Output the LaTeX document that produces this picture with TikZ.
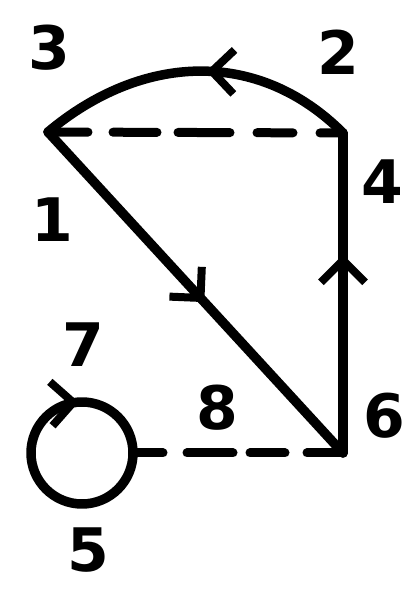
\documentclass[tikz,border=0pt]{standalone}
\usepackage{fontspec}
\setmainfont{DejaVu Sans}
\usetikzlibrary{arrows.meta,decorations.markings}
\tikzset{
  ink/.style={line width=9.5pt, line cap=round, line join=round},
  barb/.style={line width=8pt, line cap=round, line join=round},
  midarrow/.style={postaction={decorate}, decoration={markings,
    mark=at position #1 with {\arrow[barb]{Straight Barb[length=22pt,width=44pt]}}}},
  midarrowrev/.style={postaction={decorate}, decoration={markings,
    mark=at position #1 with {\arrowreversed[barb]{Straight Barb[length=22pt,width=44pt]}}}},
  lbl/.style={font=\fontsize{60}{60}\selectfont\bfseries, inner sep=0pt},
  dashline/.style={line width=9pt, line cap=round}
}
\begin{document}
\begin{tikzpicture}[x=1pt,y=1pt]
\useasboundingbox (0,0) rectangle (406,592);
% vertices
\coordinate (A) at (48,460);
\coordinate (B) at (343,459);
\coordinate (C) at (343,139);
\coordinate (L) at (82,139);
\coordinate (Le) at (133,139);
% edges
\draw[ink, midarrow=0.47] (B) to[out=135,in=40,looseness=1.05] (A);
\draw[ink, midarrow=0.53] (A) -- (C);
\draw[ink, midarrow=0.62] (C) -- (B);
\draw[ink, midarrowrev=0.26] (L) circle[radius=51];
% dashed lines
\draw[dashline, dash pattern=on 40pt off 25pt on 44pt off 21pt on 52pt off 27pt on 36pt off 27pt on 27pt] (A) -- (B);
\draw[dashline, dash pattern=on 30pt off 24pt on 46pt off 17pt on 35pt off 22pt on 40pt] (Le) -- (C);
% labels
\node[lbl] (n3) at (49,544) {3};
\node[lbl] (n2) at (338,540) {2};
\node[lbl] (n4) at (382,410) {4};
\node[lbl] (n1) at (52,372) {1};
\node[lbl] (n7) at (83,247) {7};
\node[lbl] (n8) at (217,184) {8};
\node[lbl] (n6) at (384,176) {6};
\node[lbl] (n5) at (88,42) {5};
\end{tikzpicture}
\end{document}
